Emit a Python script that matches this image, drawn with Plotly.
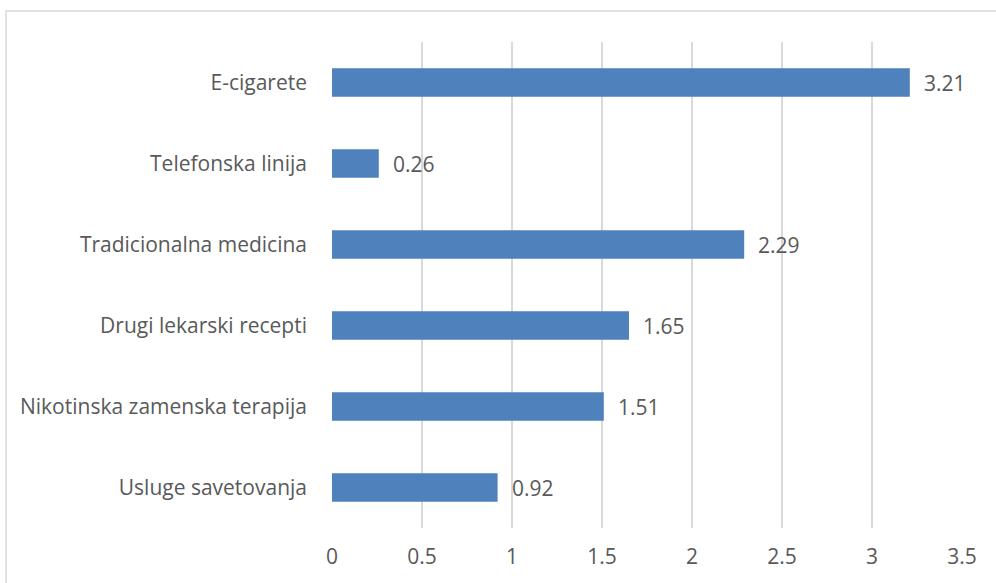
import plotly.graph_objects as go

categories = ["Usluge savetovanja", "Nikotinska zamenska terapija", "Drugi lekarski recepti",
              "Tradicionalna medicina", "Telefonska linija", "E-cigarete"]
values = [0.92, 1.51, 1.65, 2.29, 0.26, 3.21]
x_ticks = [0, 0.5, 1, 1.5, 2, 2.5, 3, 3.5]
x_tick_labels = ["0", "0.5", "1", "1.5", "2", "2.5", "3", "3.5"]

W, H = 996, 583
ml, mr, mt, mb = 332, 34, 42, 55
pw, ph = W - ml - mr, H - mt - mb

font = dict(family="Open Sans, sans-serif", size=21, color="#595959")

fig = go.Figure()
fig.add_trace(go.Bar(
    y=categories, x=values, orientation="h",
    marker=dict(color="#4F81BD", line=dict(width=0)),
    hoverinfo="skip",
))
for c, v in zip(categories, values):
    fig.add_annotation(x=v, y=c, xref="x", yref="y", text=f"{v:.2f}",
                       showarrow=False, xanchor="left", xshift=12, font=font)

fig.add_shape(type="rect", xref="paper", yref="paper",
              x0=(6 - ml) / pw, x1=(W + 5 - ml) / pw,
              y0=-(H + 5 - mt - ph) / ph, y1=(H - 11 - mb) / ph,
              line=dict(color="#D9D9D9", width=1.5), fillcolor="rgba(0,0,0,0)", layer="below")

fig.update_layout(
    width=W, height=H,
    margin=dict(l=ml, r=mr, t=mt, b=mb, pad=0),
    paper_bgcolor="white", plot_bgcolor="white",
    font=font, showlegend=False, bargap=0.65,
    xaxis=dict(range=[0, 3.5], tickvals=x_ticks, ticktext=x_tick_labels,
               showgrid=True, gridcolor="#D9D9D9", gridwidth=1.5,
               zeroline=False, showline=False, ticks="", ticklabelstandoff=14,
               fixedrange=True),
    yaxis=dict(categoryorder="array", categoryarray=categories,
               showgrid=False, zeroline=False, showline=False, ticks="",
               ticklabelstandoff=24, fixedrange=True),
)
fig.write_html("out.html", config={"displayModeBar": False},
               post_script="document.body.style.margin='0';document.body.style.overflow='hidden';")
